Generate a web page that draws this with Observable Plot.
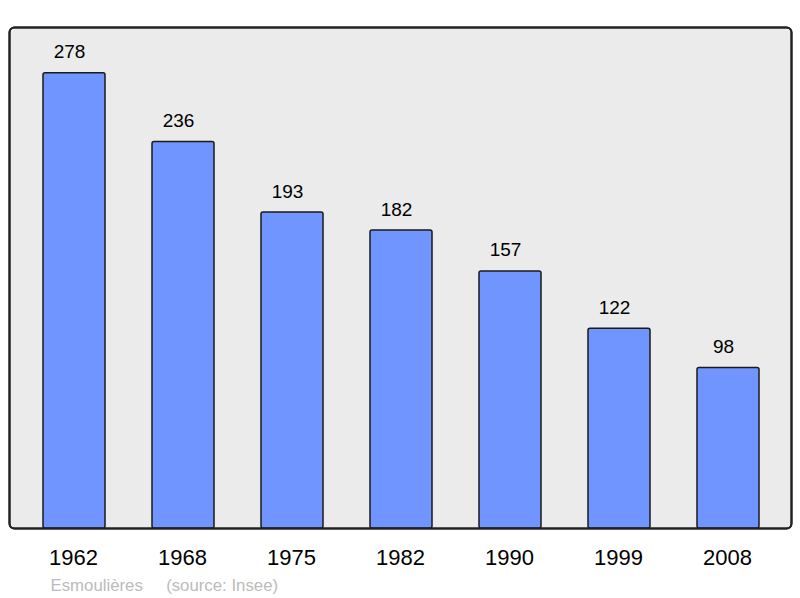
<!DOCTYPE html>
<html>
<head>
<meta charset="utf-8">
<script src="https://cdn.jsdelivr.net/npm/d3@7"></script>
<script src="https://cdn.jsdelivr.net/npm/@observablehq/plot@0.6"></script>
<style>
  html, body { margin: 0; padding: 0; background: #ffffff; }
</style>
</head>
<body>
<div id="chart"></div>
<script>
const years = ["1962", "1968", "1975", "1982", "1990", "1999", "2008"];
const population = [278, 236, 193, 182, 157, 122, 98];
const commune = "Esmoulières";
const source = "(source: Insee)";

const data = years.map((y, i) => ({year: y, value: population[i]}));
const caption = [commune + "\u00a0\u00a0\u00a0\u00a0 " + source];

const font = "'Liberation Sans', Arial, Helvetica, sans-serif";

const chart = Plot.plot({
  width: 800,
  height: 598,
  marginTop: 27,
  marginBottom: 70,
  marginLeft: 9,
  marginRight: 9,
  style: {fontFamily: font, background: "#ffffff", color: "#000"},
  x: {domain: years, range: [18.3, 784.2], paddingInner: 0.43, paddingOuter: 0.215, align: 0.5, label: null},
  y: {domain: [0, 306], axis: null},
  marks: [
    Plot.frame({fill: "#ebebeb", stroke: "#222", strokeWidth: 2, rx: 5}),
    Plot.barY(data, {x: "year", y: "value", fill: "#7095ff", stroke: "#1a1a1a", strokeWidth: 1.5, rx: 2}),
    Plot.frame({fill: "none", stroke: "#222", strokeWidth: 2, rx: 5}),
    Plot.text(data, {x: "year", y: "value", text: d => String(d.value), dx: -5, dy: -15, lineAnchor: "bottom", fontSize: 19, fill: "#000"}),
    Plot.axisX({tickSize: 0, tickPadding: 21, fontSize: 22, label: null, fill: "#000", dx: -1}),
    Plot.text(caption, {text: d => d, frameAnchor: "bottom-left", textAnchor: "start", dx: 41, dy: 62, lineAnchor: "bottom", fontSize: 16.8, fill: "#bbbbbb"})
  ]
});
document.getElementById("chart").appendChild(chart);
</script>
</body>
</html>
